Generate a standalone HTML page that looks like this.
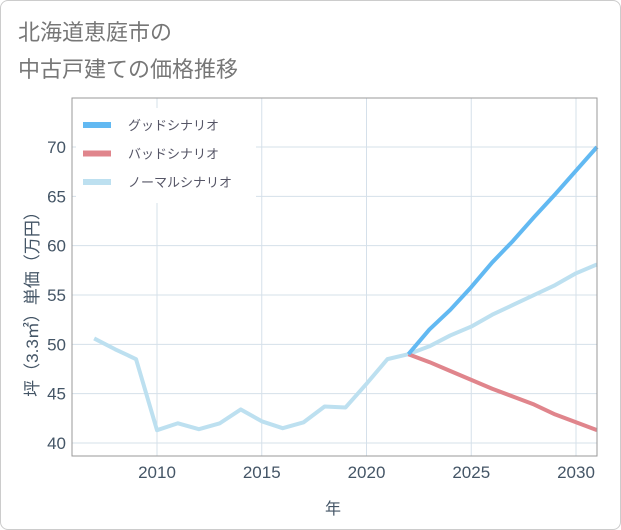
<!DOCTYPE html>
<html><head><meta charset="utf-8"><style>
body{margin:0;background:#fff;}
#card{position:absolute;left:0;top:0;width:619px;height:528px;border:1px solid #ccc;border-radius:8px;background:#fff;overflow:hidden;}
.t{font-family:"Liberation Sans","Noto Sans CJK JP",sans-serif;}
</style></head><body>
<div id="card">
<svg id="svg" width="621" height="530" style="position:absolute;left:-1px;top:-1px">
<text class="t" x="18" y="40" font-size="22" fill="#777">北海道恵庭市の</text>
<text class="t" x="18" y="77" font-size="22" fill="#777">中古戸建ての価格推移</text>
<g id="grid"></g><g id="series"></g><g id="axes"></g>
<text class="t" x="333" y="514" font-size="16" fill="#456" text-anchor="middle">年</text>
<text class="t" transform="translate(38,300) rotate(-90)" font-size="17" fill="#456" text-anchor="middle">坪（3.3㎡）単価（万円）</text>
<g id="legend"></g>
</svg></div>
<script>
const years=[2007,2008,2009,2010,2011,2012,2013,2014,2015,2016,2017,2018,2019,2020,2021,2022,2023,2024,2025,2026,2027,2028,2029,2030,2031];
const normal=[50.6,49.5,48.5,41.3,42.0,41.4,42.0,43.4,42.2,41.5,42.1,43.7,43.6,46.0,48.5,49.0,49.8,50.9,51.8,53.0,54.0,55.0,56.0,57.2,58.1];
const futureYears=[2022,2023,2024,2025,2026,2027,2028,2029,2030,2031];
const good=[49.0,51.5,53.5,55.8,58.3,60.5,62.9,65.2,67.6,70.0];
const bad=[49.0,48.2,47.3,46.4,45.5,44.7,43.9,42.9,42.1,41.3];
const xTicks=[2010,2015,2020,2025,2030];
const yTicks=[40,45,50,55,60,65,70];
const L=72,R=597,T=98,B=456;
const X=v=>157+(v-2010)*(576-157)/20;
const Y=v=>443-(v-40)*(443-147)/30;
const NS='http://www.w3.org/2000/svg';
function mk(tag,attrs,parent){const e=document.createElementNS(NS,tag);for(const k in attrs)e.setAttribute(k,attrs[k]);document.getElementById(parent).appendChild(e);return e;}
xTicks.forEach(v=>{const l=mk('line',{x1:X(v),x2:X(v),y1:T,y2:B,stroke:'#d5e0ea','stroke-width':1},'grid');


const t=mk('text',{x:X(v),y:B+22,'font-size':17,fill:'#456','text-anchor':'middle',class:'t'},'axes');t.textContent=v;

});
yTicks.forEach(v=>{const l=mk('line',{x1:L,x2:R,y1:Y(v),y2:Y(v),stroke:'#d5e0ea','stroke-width':1},'grid');


const t=mk('text',{x:L-6,y:Y(v)+6,'font-size':17,fill:'#456','text-anchor':'end',class:'t'},'axes');t.textContent=v;

});
const fr=mk('rect',{x:L,y:T,width:R-L,height:B-T,fill:'none',stroke:'#999','stroke-width':1},'axes');


function line(xs,ys,color,name){const p=mk('polyline',{points:xs.map((x,i)=>X(x)+','+Y(ys[i])).join(' '),fill:'none',stroke:color,'stroke-width':4,'stroke-linejoin':'round'},'series');

}
line(years,normal,'#bde0f0','normal-scenario-line');
line(futureYears,bad,'#e0858c','bad-scenario-line');
line(futureYears,good,'#62b9f2','good-scenario-line');
const lb=mk('rect',{x:76,y:108,width:180,height:95,fill:'#fff'},'legend');


[['グッドシナリオ','#62b9f2'],['バッドシナリオ','#e0858c'],['ノーマルシナリオ','#bde0f0']].forEach((d,i)=>{const y=125+i*28.5;
const l=mk('line',{x1:83,x2:111,y1:y,y2:y,stroke:d[1],'stroke-width':6},'legend');


const t=mk('text',{x:128,y:y+5,'font-size':13,fill:'#556',class:'t'},'legend');t.textContent=d[0];

});
</script></body></html>
